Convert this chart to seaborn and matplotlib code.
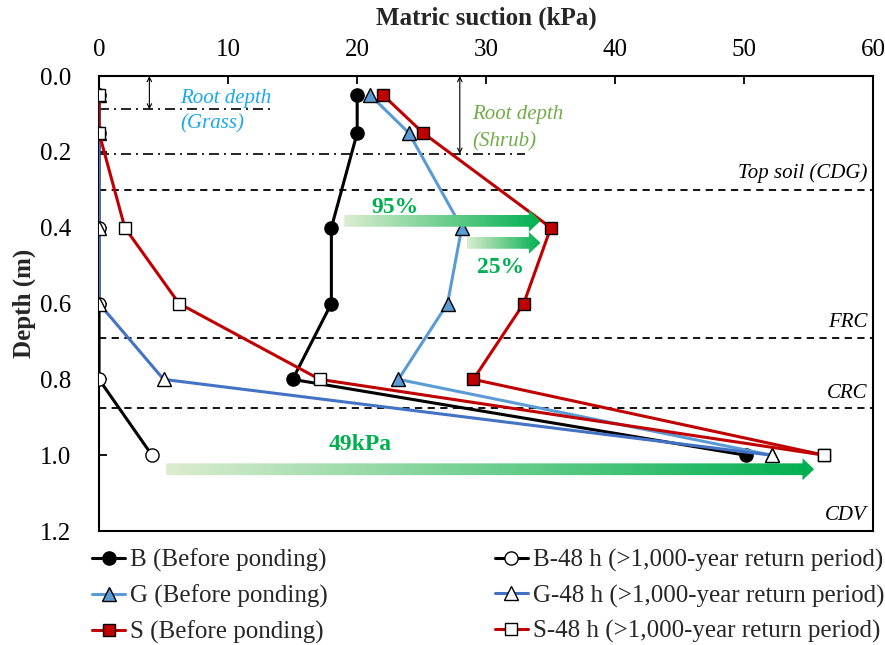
import numpy as np
import pandas as pd
import matplotlib
matplotlib.use("Agg")
import matplotlib.pyplot as plt
import seaborn as sns
from matplotlib.patches import Polygon
from matplotlib.colors import LinearSegmentedColormap

# ---------------------------------------------------------------------
# Data (matric suction in kPa at each depth in m)
# ---------------------------------------------------------------------
depth = [0.05, 0.15, 0.4, 0.6, 0.8, 1.0]

b_before = [20.0, 20.0, 18.0, 18.0, 15.0, 50.1]
g_before = [21.0, 24.0, 28.1, 27.0, 23.2, 52.1]
s_before = [22.0, 25.1, 35.0, 32.9, 29.0, 56.2]
b_48h = [0.0, 0.0, 0.0, 0.0, 0.0, 4.1]
g_48h = [0.0, 0.0, 0.0, 0.0, 5.0, 52.1]
s_48h = [0.0, 0.0, 2.0, 6.2, 17.1, 56.2]

series_labels = [
    "B (Before ponding)", "G (Before ponding)", "S (Before ponding)",
    "B-48 h (>1,000-year return period)", "G-48 h (>1,000-year return period)",
    "S-48 h (>1,000-year return period)",
]

x_ticks = [0, 10, 20, 30, 40, 50, 60]
y_ticks = [0.0, 0.2, 0.4, 0.6, 0.8, 1.0, 1.2]

# soil layer boundaries (depth, label)
layer_depths = [0.3, 0.69, 0.875]
layer_names = ["Top soil (CDG)", "FRC", "CRC", "CDV"]
layer_label_depths = [0.257, 0.649, 0.837, 1.158]

# root depths
grass_root, shrub_root = 0.088, 0.205

sns.set_theme(style="ticks")
plt.rcParams["font.family"] = ["Liberation Serif", "DejaVu Serif"]

GREEN = "#00B050"
green_cmap = LinearSegmentedColormap.from_list("grad", ["#DCEDCF", GREEN])


def grad_arrow(ax, x0, x1, y, shaft=0.031, head_h=0.058, head_l=0.9):
    """horizontal arrow filled with a light->dark green gradient"""
    xh = x1 - head_l
    verts = [(x0, y - shaft / 2), (xh, y - shaft / 2), (xh, y - head_h / 2),
             (x1, y), (xh, y + head_h / 2), (xh, y + shaft / 2), (x0, y + shaft / 2)]
    poly = Polygon(verts, closed=True, facecolor="none", edgecolor="none",
                   transform=ax.transData)
    ax.add_patch(poly)
    grad = np.linspace(0, 1, 256).reshape(1, -1)
    im = ax.imshow(grad, cmap=green_cmap, aspect="auto", zorder=6,
                   extent=[x0, x1, y + head_h / 2, y - head_h / 2])
    im.set_clip_path(poly)


fig = plt.figure(figsize=(8.85, 6.45), dpi=100)
ax = fig.add_axes([0.1119, 0.1767, 0.8751, 0.7054])

styles = [
    (b_before, "black", "o", "black", 9.5),
    (g_before, "#5B9BD5", "^", "#5B9BD5", 10),
    (s_before, "#C00000", "s", "#C00000", 9),
    (b_48h, "black", "o", "white", 9.5),
    (g_48h, "#4472C4", "^", "white", 10),
    (s_48h, "#C00000", "s", "white", 9),
]
for (vals, col, mk, fc, ms), lab in zip(styles, series_labels):
    df = pd.DataFrame({"suction": vals, "depth": depth})
    sns.lineplot(data=df, x="suction", y="depth", orient="y", sort=False,
                 estimator=None, color=col, linewidth=2.2, marker=mk,
                 markersize=ms, markerfacecolor=fc, markeredgecolor="black",
                 markeredgewidth=1.0, label=lab, ax=ax, zorder=4)

# layer boundaries and root depth lines
for d in layer_depths:
    ax.plot([0, 60], [d, d], color="black", lw=1.3, ls=(0, (4, 3)), zorder=2)
ax.plot([0, 13.5], [grass_root, grass_root], color="black", lw=1.2,
        ls=(0, (6, 3, 1.2, 3)), zorder=2)
ax.plot([0, 33.0], [shrub_root, shrub_root], color="black", lw=1.2,
        ls=(0, (6, 3, 1.2, 3)), zorder=2)

for name, d in zip(layer_names, layer_label_depths):
    ax.text(59.5, d, name, ha="right", va="center", fontsize=15,
            style="italic", color="black")

# root depth arrows and labels
ax.annotate("", xy=(3.9, 0.0), xytext=(3.9, grass_root),
            arrowprops=dict(arrowstyle="<->", lw=0.8, color="black",
                            shrinkA=0, shrinkB=0, mutation_scale=8))
ax.annotate("", xy=(27.95, 0.0), xytext=(27.95, shrub_root),
            arrowprops=dict(arrowstyle="<->", lw=0.8, color="black",
                            shrinkA=0, shrinkB=0, mutation_scale=8))
ax.text(6.3, 0.092, "Root depth\n(Grass)", ha="left", va="center", fontsize=15,
        style="italic", color="#1AA7EC", linespacing=1.45)
ax.text(28.9, 0.137, "Root depth\n(Shrub)", ha="left", va="center", fontsize=15,
        style="italic", color="#70AD47", linespacing=1.55)

# gradient arrows showing suction change
grad_arrow(ax, 19.0, 34.2, 0.382)
grad_arrow(ax, 28.5, 34.2, 0.44)
grad_arrow(ax, 5.2, 55.4, 1.037)
ax.text(22.9, 0.346, "95%", ha="center", va="center", fontsize=17,
        fontweight="bold", color=GREEN)
ax.text(31.1, 0.504, "25%", ha="center", va="center", fontsize=17,
        fontweight="bold", color=GREEN)
ax.text(20.2, 0.971, "49kPa", ha="center", va="center", fontsize=17,
        fontweight="bold", color=GREEN)

# axes
ax.set_xlim(0, 60)
ax.set_ylim(1.2, 0)
ax.set_xticks(x_ticks)
ax.set_yticks(y_ticks)
ax.set_yticklabels([f"{v:.1f}" for v in y_ticks])
ax.xaxis.set_label_position("top")
ax.tick_params(axis="x", top=True, bottom=False, labeltop=True,
               labelbottom=False, direction="in", length=6, width=1.3,
               pad=11, labelsize=18, colors="black")
ax.tick_params(axis="y", left=True, right=False, direction="in", length=6,
               width=1.3, pad=20, labelsize=18, colors="black")
ax.set_xlabel("Matric suction (kPa)", fontsize=18, fontweight="bold", labelpad=10)
ax.set_ylabel("Depth (m)", fontsize=18, fontweight="bold", labelpad=3)
for sp in ax.spines.values():
    sp.set_linewidth(1.5)
    sp.set_color("black")

handles, labels = ax.get_legend_handles_labels()
if ax.get_legend() is not None:
    ax.get_legend().remove()
fig.legend(handles, labels, loc="upper left", bbox_to_anchor=(0.1045, 0.1495),
           ncol=2, frameon=False, fontsize=18, handlelength=1.3,
           handletextpad=0.2, columnspacing=6.7, labelspacing=0.5,
           borderpad=0, borderaxespad=0)

fig.savefig("out.png", dpi=100)
